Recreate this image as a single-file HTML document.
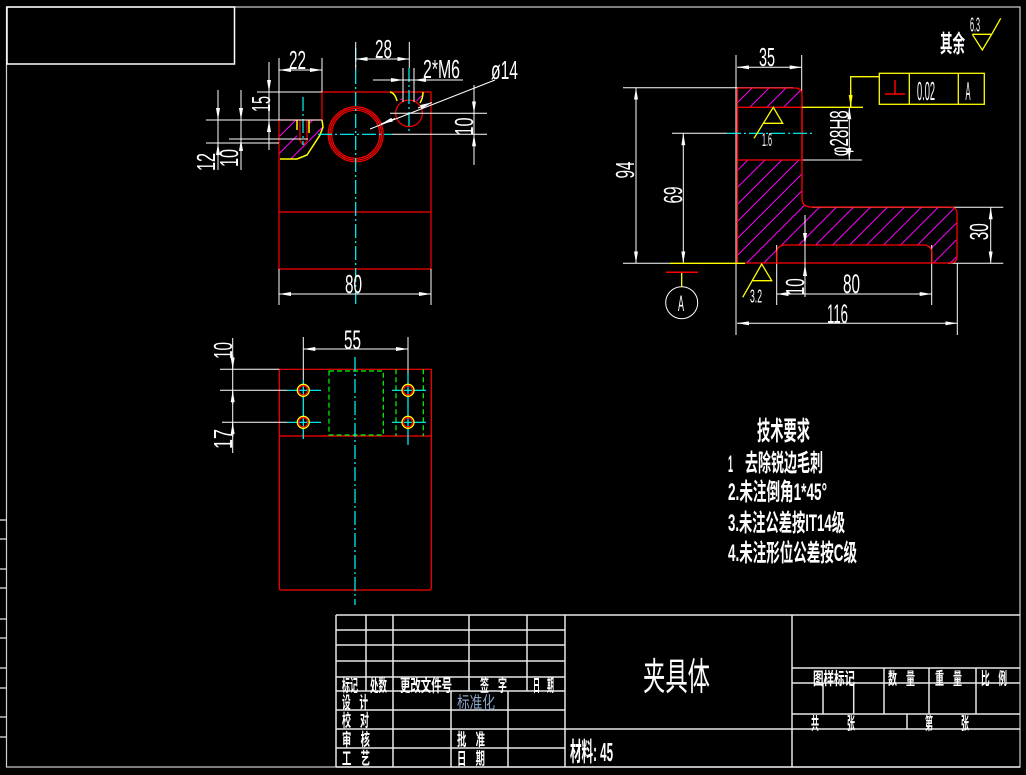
<!DOCTYPE html>
<html><head><meta charset="utf-8"><style>
html,body{margin:0;padding:0;background:#000;width:1026px;height:775px;overflow:hidden}
svg{display:block}
text{font-family:"Liberation Sans","Noto Sans CJK SC",sans-serif;fill:#fff}
.b{font-weight:bold}
</style></head><body>
<svg width="1026" height="775" viewBox="0 0 1026 775" xmlns="http://www.w3.org/2000/svg">
<defs>
<marker id="ar" viewBox="0 0 12 4" refX="12" refY="2" markerWidth="12" markerHeight="4" markerUnits="userSpaceOnUse" orient="auto-start-reverse"><path d="M0,0 L12,2 L0,4 Z" fill="#fff"/></marker>
<marker id="ay" viewBox="0 0 12 4" refX="12" refY="2" markerWidth="12" markerHeight="4" markerUnits="userSpaceOnUse" orient="auto-start-reverse"><path d="M0,0 L12,2 L0,4 Z" fill="#ff0"/></marker>
<pattern id="h" patternUnits="userSpaceOnUse" width="12" height="12" patternTransform="rotate(45)"><line x1="6" y1="0" x2="6" y2="12" stroke="#f0f" stroke-width="1"/></pattern>
</defs>
<rect width="1026" height="775" fill="#000"/>

<!-- frame -->
<rect x="6.5" y="7" width="1013.5" height="760" fill="none" stroke="#d0d0d0" stroke-width="1.2"/>
<rect x="7" y="7" width="227.5" height="57" fill="none" stroke="#fff" stroke-width="1.5"/>
<g stroke="#e0e0e0" stroke-width="1.3">
<line x1="0" y1="520" x2="6.5" y2="520"/><line x1="0" y1="539" x2="6.5" y2="539"/>
<line x1="0" y1="569" x2="6.5" y2="569"/><line x1="0" y1="588" x2="6.5" y2="588"/>
<line x1="0" y1="619" x2="6.5" y2="619"/><line x1="0" y1="638" x2="6.5" y2="638"/>
<line x1="0" y1="668" x2="6.5" y2="668"/><line x1="0" y1="688" x2="6.5" y2="688"/>
<line x1="0" y1="717" x2="6.5" y2="717"/><line x1="0" y1="737" x2="6.5" y2="737"/>
</g>

<!-- ===== TOP-LEFT VIEW ===== -->
<path d="M279,120 L322,120 L323,127 L320,135 L307,155 L297,159 L279,159 Z M297,120 L309,120 L309,141 L303,146 L297,141 Z" fill="url(#h)" fill-rule="evenodd"/>
<path d="M391,92 L402,92 L402,100 L397,100 Z M415,92 L423,92 L421,101 L415,101 Z" fill="url(#h)"/>
<g fill="none" stroke="#f00" stroke-width="1.2">
<path d="M322,92 H431 V269 H279 V120 H322 Z"/>
<line x1="279" y1="212" x2="431" y2="212"/>
<circle cx="355.7" cy="134.3" r="27.5"/>
<circle cx="355.7" cy="134.3" r="25.8"/>
<circle cx="355.7" cy="134.3" r="24"/>
<circle cx="409" cy="113.3" r="13.3"/>
<path d="M300,120 V141 L303.5,145 L307,141 V120"/>
</g>
<g fill="none" stroke="#ff0" stroke-width="1.5">
<path d="M322,120 L323,127 L320,135 L307,155 L297,159 L280,159"/>
<path d="M297,120 V130 M309,120 V133"/>
<path d="M390,92 Q395,93 397,101 M423,92 Q423,98 420,103"/>
</g>
<g stroke="#0ff" stroke-width="1.2" stroke-dasharray="14 3 2 3">
<line x1="355.7" y1="48" x2="355.7" y2="307"/>
<line x1="318" y1="134.3" x2="392" y2="134.3"/>
<line x1="409" y1="68" x2="409" y2="132"/>
<line x1="303" y1="97" x2="303" y2="145"/>
</g>
<g stroke="#fff" stroke-width="1" fill="none">
<line x1="257" y1="92" x2="322" y2="92"/>
<line x1="206" y1="120" x2="322" y2="120"/>
<line x1="229" y1="139" x2="308" y2="139"/>
<line x1="206" y1="143" x2="279" y2="143"/>
<line x1="279" y1="58" x2="279" y2="120"/>
<line x1="322" y1="58" x2="322" y2="92"/>
<line x1="355.7" y1="42" x2="355.7" y2="70"/>
<line x1="409.3" y1="42" x2="409.3" y2="68"/>
<line x1="390" y1="113.3" x2="487" y2="113.3"/>
<line x1="392" y1="134.3" x2="487" y2="134.3"/>
<line x1="279" y1="269" x2="279" y2="305"/>
<line x1="431" y1="269" x2="431" y2="305"/>
<line x1="403" y1="68" x2="403" y2="102"/>
<line x1="414" y1="68" x2="414" y2="102"/>
<line x1="279" y1="70" x2="322" y2="70" marker-start="url(#ar)" marker-end="url(#ar)"/>
<line x1="355.7" y1="59" x2="409.3" y2="59" marker-start="url(#ar)" marker-end="url(#ar)"/>
<line x1="373" y1="80" x2="463" y2="80"/>
<line x1="385" y1="80" x2="403" y2="80" marker-end="url(#ar)"/>
<line x1="432" y1="80" x2="414" y2="80" marker-end="url(#ar)"/>
<line x1="495" y1="80" x2="370" y2="129"/>
<line x1="395" y1="118.5" x2="381" y2="124" marker-end="url(#ar)"/>
<line x1="418" y1="108" x2="432" y2="102.5" marker-end="url(#ar)"/>
<line x1="269" y1="62" x2="269" y2="150"/>
<line x1="269" y1="79" x2="269" y2="92" marker-end="url(#ar)"/>
<line x1="269" y1="134" x2="269" y2="120" marker-end="url(#ar)"/>
<line x1="218" y1="90" x2="218" y2="170"/>
<line x1="218" y1="106" x2="218" y2="120" marker-end="url(#ar)"/>
<line x1="218" y1="157" x2="218" y2="143" marker-end="url(#ar)"/>
<line x1="241" y1="90" x2="241" y2="170"/>
<line x1="241" y1="106" x2="241" y2="120" marker-end="url(#ar)"/>
<line x1="241" y1="153" x2="241" y2="139" marker-end="url(#ar)"/>
<line x1="474" y1="85" x2="474" y2="165"/>
<line x1="474" y1="99" x2="474" y2="113.3" marker-end="url(#ar)"/>
<line x1="474" y1="148" x2="474" y2="134.3" marker-end="url(#ar)"/>
<line x1="279" y1="294" x2="431" y2="294" marker-start="url(#ar)" marker-end="url(#ar)"/>
</g>
<text x="289" y="69" font-size="26" textLength="17" lengthAdjust="spacingAndGlyphs">22</text>
<text x="375" y="58" font-size="26" textLength="17" lengthAdjust="spacingAndGlyphs">28</text>
<text x="423" y="78" font-size="26" textLength="37" lengthAdjust="spacingAndGlyphs">2*M6</text>
<text x="491" y="79" font-size="26" textLength="27" lengthAdjust="spacingAndGlyphs">ø14</text>
<text x="345" y="293" font-size="26" textLength="17" lengthAdjust="spacingAndGlyphs">80</text>
<text transform="translate(270,104) rotate(-90)" x="-8" y="0" font-size="26" textLength="16" lengthAdjust="spacingAndGlyphs">15</text>
<text transform="translate(215,162) rotate(-90)" x="-9" y="0" font-size="26" textLength="18" lengthAdjust="spacingAndGlyphs">12</text>
<text transform="translate(238,158) rotate(-90)" x="-9" y="0" font-size="26" textLength="18" lengthAdjust="spacingAndGlyphs">10</text>
<text transform="translate(473,126.5) rotate(-90)" x="-9" y="0" font-size="26" textLength="18" lengthAdjust="spacingAndGlyphs">10</text>

<!-- ===== BOTTOM-LEFT VIEW ===== -->
<g fill="none" stroke="#f00" stroke-width="1.2">
<path d="M279.3,369.3 H431.3 V588 Q431.3,590 429.3,590 H281.3 Q279.3,590 279.3,588 Z"/>
<line x1="279.3" y1="436" x2="431.3" y2="436"/>
</g>
<g fill="none" stroke="#0f0" stroke-width="1.2" stroke-dasharray="5 3">
<rect x="329" y="371" width="54.3" height="64"/>
<line x1="396" y1="369.3" x2="396" y2="436"/>
<line x1="423.3" y1="369.3" x2="423.3" y2="436"/>
</g>
<g stroke="#0ff" stroke-width="1.2">
<line x1="355" y1="357" x2="355" y2="605" stroke-dasharray="14 3 2 3"/>
<line x1="287" y1="390.3" x2="321" y2="390.3"/>
<line x1="287" y1="422.3" x2="321" y2="422.3"/>
<line x1="303.3" y1="380" x2="303.3" y2="439"/>
<line x1="392" y1="390.3" x2="426" y2="390.3"/>
<line x1="392" y1="422.3" x2="426" y2="422.3"/>
<line x1="408" y1="373" x2="408" y2="445"/>
</g>
<g fill="none" stroke-width="1.3">
<circle cx="303.3" cy="390.3" r="6" stroke="#ff0"/><circle cx="303.3" cy="390.3" r="4.6" stroke="#f00"/>
<circle cx="303.3" cy="422.3" r="6" stroke="#ff0"/><circle cx="303.3" cy="422.3" r="4.6" stroke="#f00"/>
<circle cx="408" cy="390.3" r="6" stroke="#ff0"/><circle cx="408" cy="390.3" r="4.6" stroke="#f00"/>
<circle cx="408" cy="422.3" r="6" stroke="#ff0"/><circle cx="408" cy="422.3" r="4.6" stroke="#f00"/>
</g>
<g stroke="#fff" stroke-width="1" fill="none">
<line x1="303.3" y1="337" x2="303.3" y2="380"/>
<line x1="408" y1="337" x2="408" y2="373"/>
<line x1="303.3" y1="349" x2="408" y2="349" marker-start="url(#ar)" marker-end="url(#ar)"/>
<line x1="220" y1="369.3" x2="279.3" y2="369.3"/>
<line x1="220" y1="390.3" x2="287" y2="390.3"/>
<line x1="222" y1="422.3" x2="287" y2="422.3"/>
<line x1="232.7" y1="338" x2="232.7" y2="453"/>
<line x1="232.7" y1="355" x2="232.7" y2="369.3" marker-end="url(#ar)"/>
<line x1="232.7" y1="404" x2="232.7" y2="390.3" marker-end="url(#ar)"/>
<line x1="232.7" y1="437" x2="232.7" y2="422.3" marker-end="url(#ar)"/>
</g>
<text x="344" y="349" font-size="27" textLength="17" lengthAdjust="spacingAndGlyphs">55</text>
<text transform="translate(232,350) rotate(-90)" x="-9" y="0" font-size="26" textLength="17" lengthAdjust="spacingAndGlyphs">10</text>
<text transform="translate(232,439) rotate(-90)" x="-10" y="0" font-size="26" textLength="20" lengthAdjust="spacingAndGlyphs">17</text>

<!-- ===== RIGHT VIEW ===== -->
<path d="M737,88 L795,88 Q802,88 802,95 L802,198 Q802,207 811,207 L950,207 Q957,207 957,214 L957,256 Q957,263 950,263 L737,263 Z M737,107.3 L802,107.3 L802,160 L737,160 Z M777,263 L777,253 Q777,245 785,245 L923,245 Q932,245 932,254 L932,263 Z" fill="url(#h)" fill-rule="evenodd"/>
<g fill="none" stroke="#fff" stroke-width="1">
<line x1="736" y1="55" x2="736" y2="335"/>
<line x1="801.7" y1="55" x2="801.7" y2="93"/>
<line x1="623" y1="87.7" x2="793" y2="87.7"/>
<line x1="623" y1="263.3" x2="670" y2="263.3"/>
<line x1="672" y1="133.3" x2="727" y2="133.3"/>
<line x1="802" y1="160" x2="862" y2="160"/>
<line x1="811.7" y1="207.3" x2="1003.3" y2="207.3"/>
<line x1="948" y1="263.3" x2="1003.3" y2="263.3"/>
<line x1="776.7" y1="245" x2="776.7" y2="305"/>
<line x1="931.7" y1="245" x2="931.7" y2="305"/>
<line x1="957.3" y1="263" x2="957.3" y2="335"/>
</g>
<g fill="none" stroke="#f00" stroke-width="1.3">
<path d="M737.5,88 L795,88 Q802,88 802,95 L802,198 Q802,207 811,207 L950,207 Q957,207 957,214 L957,256 Q957,263 950,263 L745,263"/>
<line x1="737.5" y1="88" x2="737.5" y2="263"/>
<rect x="737.5" y="107.3" width="64.5" height="52.7"/>
<path d="M777,263 L777,253 Q777,245 785,245 L923,245 Q932,245 932,254 L932,263"/>
</g>
<line x1="727" y1="133.3" x2="813" y2="133.3" stroke="#0ff" stroke-width="1.2" stroke-dasharray="14 3 2 3"/>
<g fill="none" stroke="#fff" stroke-width="1">
<line x1="737" y1="67.3" x2="801.7" y2="67.3" marker-start="url(#ar)" marker-end="url(#ar)"/>
<line x1="636" y1="87.7" x2="636" y2="263.3" marker-start="url(#ar)" marker-end="url(#ar)"/>
<line x1="683.3" y1="133.3" x2="683.3" y2="263.3" marker-start="url(#ar)" marker-end="url(#ar)"/>
<line x1="849.3" y1="107.3" x2="849.3" y2="160" marker-start="url(#ar)" marker-end="url(#ar)"/>
<line x1="990.7" y1="207.3" x2="990.7" y2="263.3" marker-start="url(#ar)" marker-end="url(#ar)"/>
<line x1="805" y1="215" x2="805" y2="297"/>
<line x1="805" y1="231" x2="805" y2="245" marker-end="url(#ar)"/>
<line x1="805" y1="278" x2="805" y2="264" marker-end="url(#ar)"/>
<line x1="776.7" y1="294" x2="931.7" y2="294" marker-start="url(#ar)" marker-end="url(#ar)"/>
<line x1="737" y1="323.3" x2="957.3" y2="323.3" marker-start="url(#ar)" marker-end="url(#ar)"/>
<circle cx="681.7" cy="302.7" r="16"/>
</g>
<g fill="none" stroke="#ff0" stroke-width="1.3">
<line x1="802" y1="107.3" x2="863" y2="107.3"/>
<rect x="879.3" y="73.3" width="105" height="31"/>
<line x1="909.3" y1="73.3" x2="909.3" y2="104.3"/>
<line x1="958.3" y1="73.3" x2="958.3" y2="104.3"/>
<path d="M879.3,76.7 H850.7 V90"/>
<line x1="850.7" y1="90" x2="850.7" y2="107" stroke-width="1.5" marker-end="url(#ay)"/>
<line x1="670" y1="263.3" x2="745" y2="263.3"/>
<line x1="681.7" y1="272.3" x2="681.7" y2="286.7"/>
<path d="M754,138.3 L773.3,107.3 L782.7,123.3 L763.3,123.3"/>
<path d="M742.7,297.3 L761.7,264 L771.7,280.7 L752.7,280.7"/>
<path d="M972.3,34.3 L991.7,34.3 L982.3,50 L972.3,34.3 M991.7,34.3 L1000.7,18.3"/>
</g>
<g stroke="#f00" stroke-width="1.5">
<line x1="666" y1="272.3" x2="698" y2="272.3"/>
<line x1="885" y1="94" x2="905" y2="94"/>
<line x1="895" y1="80" x2="895" y2="94"/>
</g>
<text x="759" y="66" font-size="26" textLength="16" lengthAdjust="spacingAndGlyphs">35</text>
<text x="843" y="293" font-size="27" textLength="17" lengthAdjust="spacingAndGlyphs">80</text>
<text x="827" y="323" font-size="27" textLength="21" lengthAdjust="spacingAndGlyphs">116</text>
<text x="762" y="146" font-size="18" textLength="10" lengthAdjust="spacingAndGlyphs">1.6</text>
<text x="750" y="302.7" font-size="18" textLength="12" lengthAdjust="spacingAndGlyphs">3.2</text>
<text x="678" y="311" font-size="22" textLength="6" lengthAdjust="spacingAndGlyphs">A</text>
<text x="917" y="100" font-size="26" textLength="18" lengthAdjust="spacingAndGlyphs">0.02</text>
<text x="965.5" y="100" font-size="26" textLength="5" lengthAdjust="spacingAndGlyphs">A</text>
<text x="970" y="31.5" font-size="20" textLength="10" lengthAdjust="spacingAndGlyphs">6.3</text>
<text class="b" x="940" y="52" font-size="24" textLength="25" lengthAdjust="spacingAndGlyphs">其余</text>
<text transform="translate(634,170) rotate(-90)" x="-8.5" y="0" font-size="26" textLength="17" lengthAdjust="spacingAndGlyphs">94</text>
<text transform="translate(682,195) rotate(-90)" x="-8.5" y="0" font-size="26" textLength="17" lengthAdjust="spacingAndGlyphs">69</text>
<text transform="translate(988,231.7) rotate(-90)" x="-8.5" y="0" font-size="26" textLength="17" lengthAdjust="spacingAndGlyphs">30</text>
<text transform="translate(804,286.7) rotate(-90)" x="-8.5" y="0" font-size="26" textLength="17" lengthAdjust="spacingAndGlyphs">10</text>
<text transform="translate(848,133.3) rotate(-90)" x="-23" y="0" font-size="26" textLength="46" lengthAdjust="spacingAndGlyphs">φ28H8</text>

<!-- ===== TECH REQUIREMENTS ===== -->
<g class="b">
<text x="757" y="440" font-size="26" textLength="53" lengthAdjust="spacingAndGlyphs">技术要求</text>
<text x="728" y="472" font-size="24" textLength="5" lengthAdjust="spacingAndGlyphs">1</text>
<text x="745" y="471" font-size="24" textLength="78" lengthAdjust="spacingAndGlyphs">去除锐边毛刺</text>
<text x="728" y="500" font-size="24" textLength="99" lengthAdjust="spacingAndGlyphs">2.未注倒角1*45°</text>
<text x="728" y="531" font-size="24" textLength="117" lengthAdjust="spacingAndGlyphs">3.未注公差按IT14级</text>
<text x="728" y="561" font-size="24" textLength="129" lengthAdjust="spacingAndGlyphs">4.未注形位公差按C级</text>
</g>

<!-- ===== TITLE BLOCK ===== -->
<g stroke="#e8e8e8" stroke-width="1.5">
<line x1="336" y1="615" x2="1020" y2="615"/>
<line x1="336" y1="630" x2="565" y2="630"/>
<line x1="336" y1="645" x2="565" y2="645"/>
<line x1="336" y1="661" x2="565" y2="661"/>
<line x1="336" y1="677" x2="565" y2="677"/>
<line x1="336" y1="691" x2="565" y2="691"/>
<line x1="336" y1="710" x2="565" y2="710"/>
<line x1="336" y1="729" x2="1020" y2="729"/>
<line x1="336" y1="748" x2="565" y2="748"/>
<line x1="336" y1="767" x2="1020" y2="767"/>
<line x1="792" y1="668" x2="1020" y2="668"/>
<line x1="792" y1="683" x2="1020" y2="683"/>
<line x1="792" y1="714" x2="1020" y2="714"/>
<line x1="336" y1="615" x2="336" y2="767"/>
<line x1="366" y1="615" x2="366" y2="691"/>
<line x1="393" y1="615" x2="393" y2="767"/>
<line x1="469" y1="615" x2="469" y2="691"/>
<line x1="527" y1="615" x2="527" y2="691"/>
<line x1="451" y1="691" x2="451" y2="767"/>
<line x1="508" y1="691" x2="508" y2="767"/>
<line x1="565" y1="615" x2="565" y2="767"/>
<line x1="792" y1="615" x2="792" y2="767"/>
<line x1="884" y1="668" x2="884" y2="714"/>
<line x1="929" y1="668" x2="929" y2="714"/>
<line x1="976" y1="668" x2="976" y2="714"/>
<line x1="823" y1="683" x2="823" y2="714"/>
<line x1="853.7" y1="683" x2="853.7" y2="714"/>
<line x1="907" y1="714" x2="907" y2="729"/>
</g>
<g font-size="17" class="b">
<text x="342" y="691.5" textLength="16" lengthAdjust="spacingAndGlyphs">标记</text>
<text x="370" y="691.5" textLength="17" lengthAdjust="spacingAndGlyphs">处数</text>
<text x="400" y="691.5" textLength="52" lengthAdjust="spacingAndGlyphs">更改文件号</text>
<text x="480" y="691.5" textLength="27" lengthAdjust="spacingAndGlyphs">签　字</text>
<text x="533" y="691.5" textLength="21" lengthAdjust="spacingAndGlyphs">日　期</text>
<text x="342" y="708.5" textLength="26" lengthAdjust="spacingAndGlyphs">设　计</text>
<text x="457" y="708.5" textLength="38" lengthAdjust="spacingAndGlyphs" style="fill:#8aa4c8;font-weight:normal">标准化</text>
<text x="342" y="726.5" textLength="27" lengthAdjust="spacingAndGlyphs">校　对</text>
<text x="342" y="745.5" textLength="28" lengthAdjust="spacingAndGlyphs">审　核</text>
<text x="457" y="745.5" textLength="28" lengthAdjust="spacingAndGlyphs">批　准</text>
<text x="342" y="764.5" textLength="28" lengthAdjust="spacingAndGlyphs">工　艺</text>
<text x="457" y="764.5" textLength="28" lengthAdjust="spacingAndGlyphs">日　期</text>
<text x="813" y="684.5" textLength="42" lengthAdjust="spacingAndGlyphs">图样标记</text>
<text x="888" y="684.5" textLength="27" lengthAdjust="spacingAndGlyphs">数　量</text>
<text x="935" y="684.5" textLength="27" lengthAdjust="spacingAndGlyphs">重　量</text>
<text x="981" y="684.5" textLength="26" lengthAdjust="spacingAndGlyphs">比　例</text>
<text x="811" y="729.5" textLength="8" lengthAdjust="spacingAndGlyphs">共</text>
<text x="847" y="729.5" textLength="8" lengthAdjust="spacingAndGlyphs">张</text>
<text x="925" y="729.5" textLength="8" lengthAdjust="spacingAndGlyphs">第</text>
<text x="961" y="729.5" textLength="8" lengthAdjust="spacingAndGlyphs">张</text>
</g>
<text x="643" y="690" font-size="38" textLength="67" lengthAdjust="spacingAndGlyphs">夹具体</text>
<text class="b" x="570" y="761" font-size="26" textLength="43" lengthAdjust="spacingAndGlyphs">材料: 45</text>
</svg>
</body></html>
